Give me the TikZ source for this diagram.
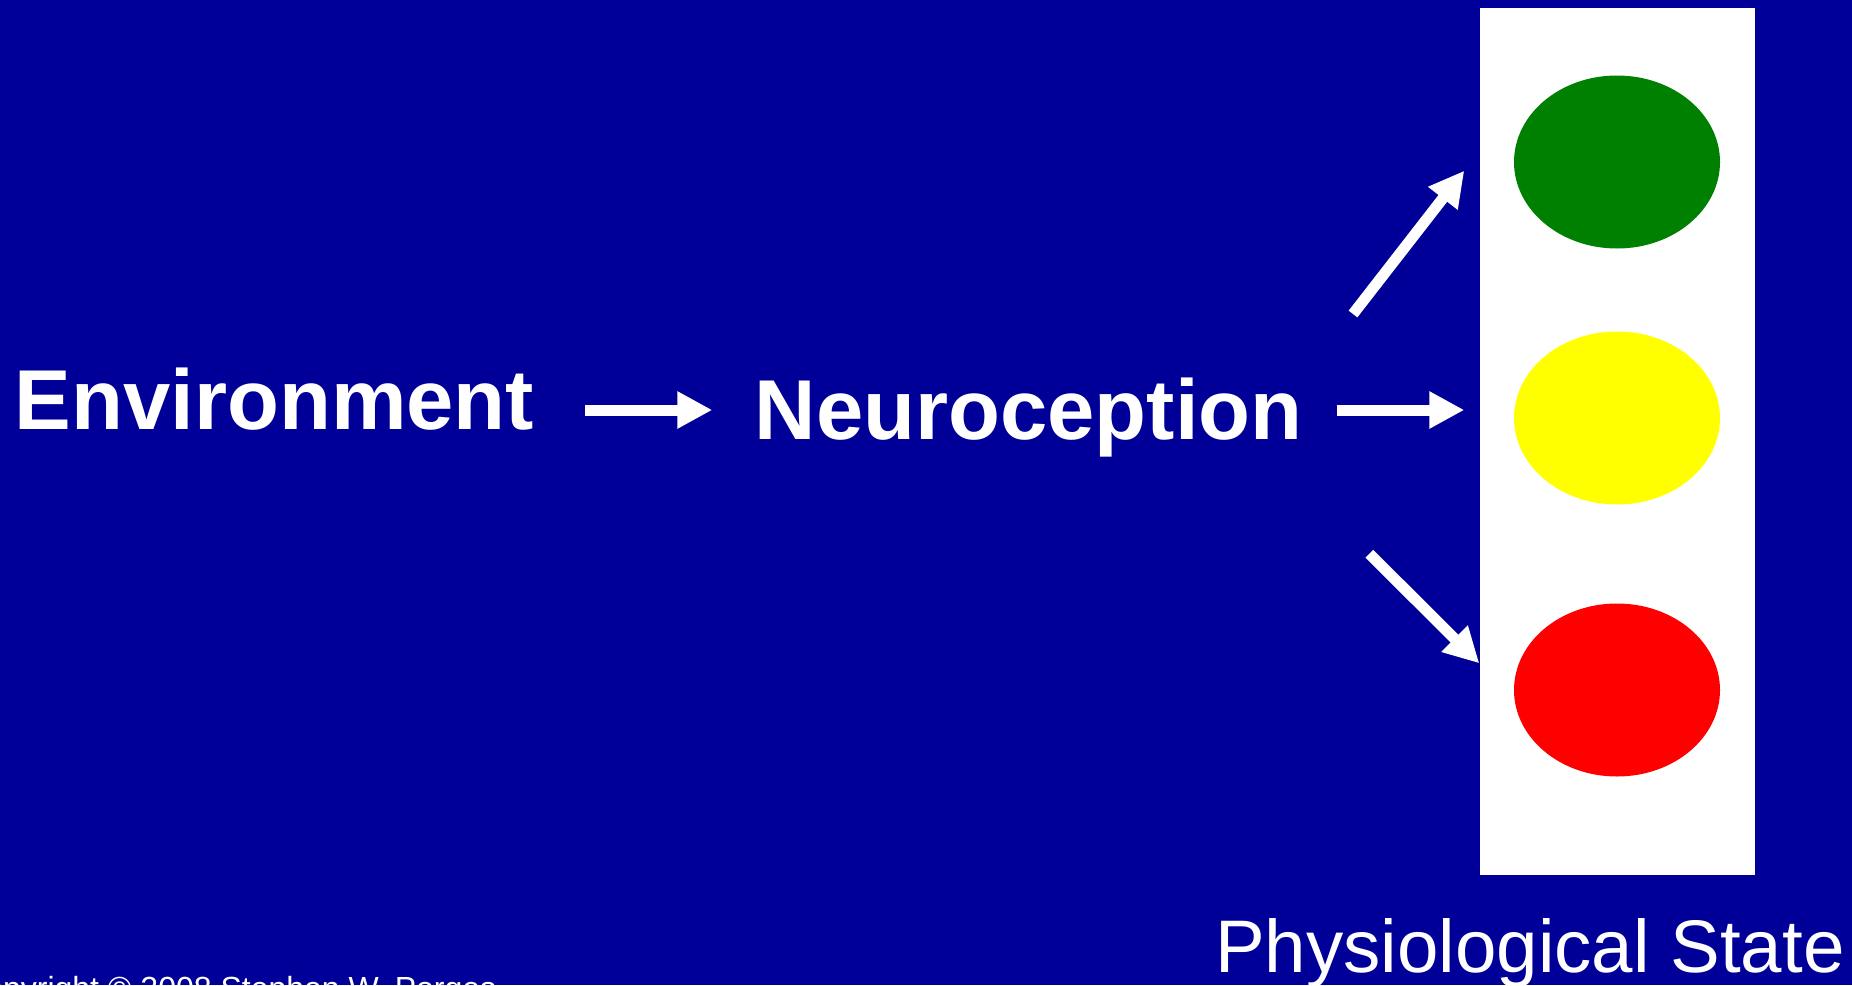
\documentclass[tikz,border=0pt]{standalone}
\usepackage{fontspec}
\setmainfont{Liberation Sans}
\usetikzlibrary{arrows.meta,shapes.geometric}
\definecolor{bg}{RGB}{0,0,153}
\definecolor{tlgreen}{RGB}{0,128,0}
\definecolor{tlyellow}{RGB}{255,255,0}
\definecolor{tlred}{RGB}{255,0,0}
\tikzset{
  arr/.style={draw=white, line width=11pt, -{Triangle[length=35pt,width=35pt]}},
  bigword/.style={text=white, inner sep=0pt, anchor=base west, font=\fontsize{85}{100}\selectfont\bfseries},
  light/.style={ellipse, inner sep=0pt, minimum width=206pt, minimum height=173pt},
}
\begin{document}
\begin{tikzpicture}[x=1pt,y=-1pt]
\useasboundingbox (0,0) rectangle (1852,985);
\clip (0,0) rectangle (1852,985);
\fill[bg] (0,0) rectangle (1852,985);
% traffic light box
\node[fill=white, inner sep=0pt, minimum width=275pt, minimum height=867pt] (box) at (1617.5,441.5) {};
\node[light, fill=tlgreen] (green) at (1617,162) {};
\node[light, fill=tlyellow] (yellow) at (1617,418) {};
\node[light, fill=tlred] (red) at (1617,690) {};
% words
\node[bigword] (env) at (14.5,429) {Environment};
\node[bigword] (neuro) at (754.5,439) {Neuroception};
\node[text=white, inner sep=0pt, anchor=base west, font=\fontsize{74.5}{86}\selectfont] (phys) at (1215,972) {Physiological State};
\node[text=white, inner sep=0pt, anchor=base west, font=\fontsize{32}{38}\selectfont] (copy) at (-38,999) {Copyright © 2008 Stephen W. Porges};
% arrow ends
\coordinate (e1) at (585,410);
\coordinate (n1) at (712.3,410);
\coordinate (s1) at (1353,314);
\coordinate (t1) at (1464.3,170.7);
\coordinate (s2) at (1336.7,410);
\coordinate (t2) at (1464.3,410);
\coordinate (s3) at (1369.3,553.7);
\coordinate (t3) at (1479.3,663.3);
\draw[arr] (e1) -- (n1);
\draw[arr] (s1) -- (t1);
\draw[arr] (s2) -- (t2);
\draw[arr] (s3) -- (t3);
\end{tikzpicture}
\end{document}
